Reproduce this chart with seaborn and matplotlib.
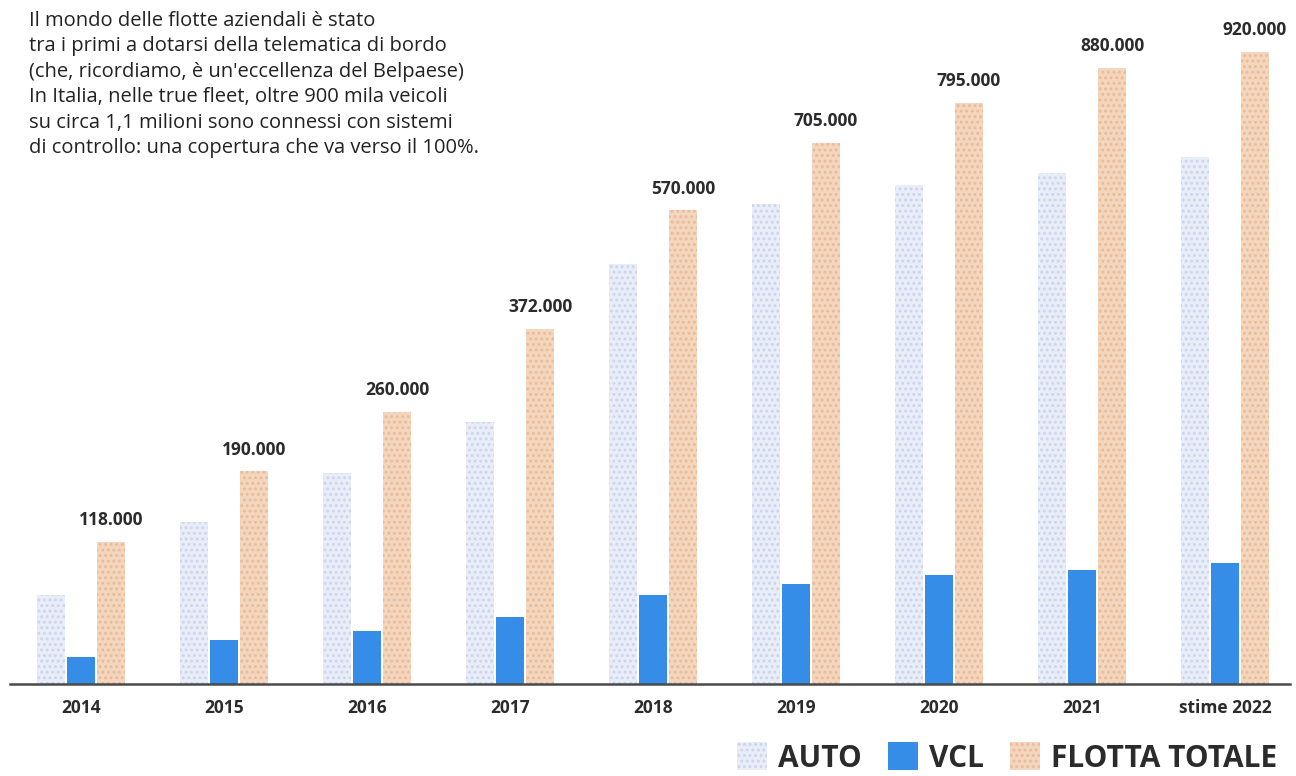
import numpy as np
import pandas as pd
import matplotlib
matplotlib.use("Agg")
import matplotlib.pyplot as plt
import seaborn as sns

# Veicoli connessi nelle flotte aziendali
anni = ["2014", "2015", "2016", "2017", "2018", "2019", "2020", "2021", "stime 2022"]
auto = [70000, 137000, 188000, 247000, 474000, 582000, 619000, 643000, 675000]
vcl = [20000, 32500, 40000, 51500, 70000, 79000, 87000, 91500, 98000]
totale = [118000, 190000, 260000, 372000, 570000, 705000, 795000, 880000, 920000]
serie = ["AUTO", "VCL", "FLOTTA TOTALE"]

testo = ("Il mondo delle flotte aziendali è stato\n"
         "tra i primi a dotarsi della telematica di bordo\n"
         "(che, ricordiamo, è un'eccellenza del Belpaese)\n"
         "In Italia, nelle true fleet, oltre 900 mila veicoli\n"
         "su circa 1,1 milioni sono connessi con sistemi\n"
         "di controllo: una copertura che va verso il 100%.")

colori = {"AUTO": "#e9edf8", "VCL": "#358de8", "FLOTTA TOTALE": "#f4d5bd"}
grana = {"AUTO": ("#cbd3ef", "..."), "VCL": (None, None),
         "FLOTTA TOTALE": ("#e9bb97", "...")}

sns.set_theme(style="white")
plt.rcParams["font.family"] = ["Open Sans", "DejaVu Sans"]
plt.rcParams["hatch.linewidth"] = 1.3

df = pd.DataFrame({
    "anno": anni * 3,
    "serie": np.repeat(serie, len(anni)),
    "valore": auto + vcl + totale,
})

W, H = 1296, 776
fig = plt.figure(figsize=(W / 100, H / 100), dpi=100)
fig.patch.set_facecolor("white")
ax = fig.add_axes([10 / W, 92 / H, 1280 / W, 664 / H])

sns.barplot(data=df, x="anno", y="valore", hue="serie", hue_order=serie,
            palette=colori, saturation=1, width=0.63, gap=0.04,
            legend=False, ax=ax)

# compressed (logarithmic) value axis, as in the printed infographic
c = 350000.0
ax.set_yscale("function",
              functions=(lambda v: np.log1p(np.maximum(v, 0) / c),
                         lambda u: c * np.expm1(u)))
vmax = c * np.expm1(np.log1p(max(totale) / c) * 664 / 632)
ax.set_ylim(0, vmax)
ax.set_xlim(-0.4965, 8.4545)

for cont, nome in zip(ax.containers, serie):
    hc, hatch = grana[nome]
    for bar in cont:
        if hatch:
            bar.set_hatch(hatch)
            bar.set_edgecolor(hc)
        bar.set_linewidth(0)

ax.bar_label(ax.containers[2],
             labels=[f"{v:,}".replace(",", ".") for v in totale],
             padding=9, fontsize=12.5, fontweight="bold", color="#2b2b2b")

for s in ["top", "left", "right"]:
    ax.spines[s].set_visible(False)
ax.spines["bottom"].set_color("#4a4a4a")
ax.spines["bottom"].set_linewidth(1.8)
ax.set_yticks([])
ax.set_xlabel("")
ax.set_ylabel("")
ax.tick_params(axis="x", length=0, pad=11, labelsize=12.5, labelcolor="#2b2b2b")
for lbl in ax.get_xticklabels():
    lbl.set_fontweight("bold")

fig.text(29 / W, 1 - 11 / H, testo, ha="left", va="top", fontsize=14.5,
         color="#222222", linespacing=1.36)

handles = [c_.patches[0] for c_ in ax.containers]
fig.legend(handles, serie, loc="center right", bbox_to_anchor=(1277 / W, 18 / H),
           ncol=3, frameon=False, prop={"weight": "bold", "size": 21.5},
           labelcolor="#2b2b2b", handlelength=1.0, handleheight=1.05,
           handletextpad=0.35, columnspacing=0.9, borderpad=0, borderaxespad=0)

fig.savefig("out.png", dpi=100, facecolor="white")
